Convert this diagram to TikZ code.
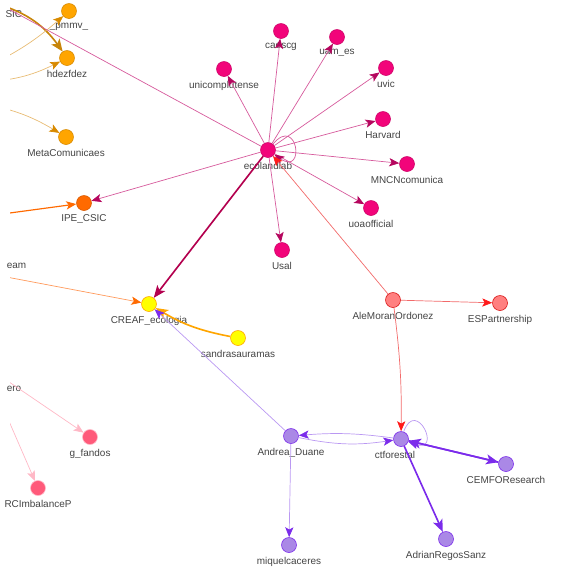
\documentclass[tikz,border=0pt]{standalone}
\usepackage{fontspec}
\setmainfont{Liberation Sans}
\usetikzlibrary{arrows.meta}

\definecolor{hubpink}{HTML}{F2047A}
\definecolor{hubedge}{HTML}{D65A9C}
\definecolor{hubtip}{HTML}{B5065E}
\definecolor{hubdark}{HTML}{B3004E}
\definecolor{amber}{HTML}{FFA500}
\definecolor{amberdk}{HTML}{D88A00}
\definecolor{tanline}{HTML}{E8BC74}
\definecolor{goldline}{HTML}{C7850A}
\definecolor{ipeorange}{HTML}{FF6A00}
\definecolor{peach}{HTML}{FF9A5C}
\definecolor{lemon}{HTML}{FFFF00}
\definecolor{salmon}{HTML}{FF8080}
\definecolor{redline}{HTML}{F26A6A}
\definecolor{redtip}{HTML}{FF1A1A}
\definecolor{lilac}{HTML}{AA88E6}
\definecolor{violet}{HTML}{7B2BEB}
\definecolor{lightviolet}{HTML}{BA98F2}
\definecolor{rose}{HTML}{FF5A7A}
\definecolor{blush}{HTML}{FFB8C6}
\definecolor{labgray}{HTML}{444444}

\begin{document}
\begin{tikzpicture}[x=0.03cm, y=-0.03cm,
  dot/.style 2 args={circle, fill=#1, draw=#2, line width=0.5pt, minimum size=0.45cm, inner sep=0pt},
  lbl/.style={font=\fontsize{8.5}{10}\selectfont, text=labgray},
  link/.style 2 args={draw=#1, line width=0.6pt, -{Stealth[length=8.5pt,width=7pt,inset=2pt,color=#2]}},
  heavy/.style 2 args={draw=#1, line width=1.4pt, -{Stealth[length=10.5pt,width=8.5pt,inset=2.5pt,color=#2]}}]
  \useasboundingbox (0,0) rectangle (579,578);
  % Off-screen ends
  \coordinate (offnw) at (-30,-12);
  \coordinate (offsic) at (-10,2);
  \coordinate (offa) at (-20,70);
  \coordinate (offb) at (-20,82);
  \coordinate (offc) at (-20,103);
  \coordinate (offd) at (-20,217);
  \coordinate (offe) at (-20,272);
  \coordinate (offf) at (-10,369);
  \coordinate (offg) at (-5,389);
  \node[lbl, anchor=east] (sic) at (26.3,14) {SIC};
  \node[lbl, anchor=east] (eam) at (30.3,266) {eam};
  \node[lbl, anchor=east] (ero) at (25.3,389) {ero};
  % Orange group
  \node[dot={amber}{amberdk}, label={[lbl]below:\_pmmv\_}] (pmmv) at (69,11) {};
  \node[dot={amber}{amberdk}, label={[lbl]below:hdezfdez}] (hdezfdez) at (67,58) {};
  \node[dot={amber}{amberdk}, label={[lbl]below:MetaComunicaes}] (meta) at (66,137) {};
  \node[dot={ipeorange}{ipeorange!85!black}, label={[lbl]below:IPE\_CSIC}] (ipe) at (84,203) {};
  \node[dot={lemon}{amber}, label={[lbl]below:CREAF\_ecologia}] (creaf) at (149,304) {};
  \node[dot={lemon}{amber}, label={[lbl]below:sandrasauramas}] (sandra) at (238,338) {};
  % Hub and its targets
  \node[dot={hubpink}{hubpink!85!black}, label={[lbl]below:ecolandlab}] (eco) at (268,150) {};
  \node[dot={hubpink}{hubpink!85!black}, label={[lbl]below:caescg}] (caescg) at (281,31) {};
  \node[dot={hubpink}{hubpink!85!black}, label={[lbl]below:uam\_es}] (uam) at (337,37) {};
  \node[dot={hubpink}{hubpink!85!black}, label={[lbl]below:unicomplutense}] (ucm) at (224,69) {};
  \node[dot={hubpink}{hubpink!85!black}, label={[lbl]below:uvic}] (uvic) at (386,68) {};
  \node[dot={hubpink}{hubpink!85!black}, label={[lbl]below:Harvard}] (harvard) at (383,119) {};
  \node[dot={hubpink}{hubpink!85!black}, label={[lbl]below:MNCNcomunica}] (mncn) at (407,164) {};
  \node[dot={hubpink}{hubpink!85!black}, label={[lbl]below:uoaofficial}] (uoa) at (371,208) {};
  \node[dot={hubpink}{hubpink!85!black}, label={[lbl]below:Usal}] (usal) at (282,250) {};
  % Red group
  \node[dot={salmon}{redtip!85!black}, label={[lbl]below:AleMoranOrdonez}] (ale) at (393,300) {};
  \node[dot={salmon}{redtip!85!black}, label={[lbl]below:ESPartnership}] (esp) at (500,303) {};
  % Purple group
  \node[dot={lilac}{violet}, label={[lbl,xshift=-0.18cm]below:ctforestal}] (ctf) at (401,439) {};
  \node[dot={lilac}{violet}, label={[lbl]below:Andrea\_Duane}] (andrea) at (291,436) {};
  \node[dot={lilac}{violet}, label={[lbl]below:CEMFOResearch}] (cemfo) at (506,464) {};
  \node[dot={lilac}{violet}, label={[lbl]below:AdrianRegosSanz}] (adrian) at (446,539) {};
  \node[dot={lilac}{violet}, label={[lbl]below:miquelcaceres}] (miquel) at (289,545) {};
  % Pink pair
  \node[dot={rose}{blush}, label={[lbl]below:g\_fandos}] (fandos) at (90,437) {};
  \node[dot={rose}{blush}, label={[lbl]below:RCImbalanceP}] (rci) at (38,488) {};

  \begin{scope}
  \clip (10,0) rectangle (579,578);
  % Edges from the left
  \draw[heavy={goldline}{goldline}] (offsic) to[bend left=20] (hdezfdez);
  \draw[link={tanline}{amberdk}] (offa) to[bend right=8] (pmmv);
  \draw[link={tanline}{amberdk}] (offb) to[bend right=12] (hdezfdez);
  \draw[link={tanline}{amberdk}] (offc) to[bend left=10] (meta);
  \draw[link={ipeorange}{ipeorange}, line width=1pt] (offd) -- (ipe);
  \draw[link={peach}{ipeorange}] (offe) -- (creaf);
  \draw[link={blush}{blush}] (offf) -- (fandos);
  \draw[link={blush}{blush}] (offg) -- (rci);
  % Hub edges
  \draw[link={hubedge}{hubtip}] (eco) -- (offnw);
  \foreach \t in {caescg,uam,ucm,uvic,harvard,mncn,uoa,usal,ipe}
    \draw[link={hubedge}{hubtip}] (eco) -- (\t);
  \draw[link={hubedge}{hubtip}] (eco) to[out=50,in=-35,min distance=1.15cm] (eco);
  \draw[heavy={hubdark}{hubdark}] (eco) -- (creaf);
  \draw[heavy={amber}{amber}] (sandra) to[bend left=10] (creaf);
  % Red edges
  \draw[link={redline}{redtip}] (ale) -- (eco);
  \draw[link={redline}{redtip}] (ale) -- (esp);
  \draw[link={redline}{redtip}] (ale) to[bend left=4] (ctf);
  % Purple edges
  \draw[link={lightviolet}{violet}] (ctf) to[out=70,in=-20,min distance=1.1cm] (ctf);
  \draw[link={lightviolet}{violet}] (ctf) to[bend right=6] (andrea);
  \draw[link={lightviolet}{violet}] (andrea) to[bend right=10] (ctf);
  \draw[link={lightviolet}{violet}] (andrea) -- (miquel);
  \draw[link={lightviolet}{violet}] (andrea) -- (creaf);
  \draw[heavy={violet}{violet}] (ctf) -- (cemfo);
  \draw[heavy={violet}{violet}] (cemfo) -- (ctf);
  \draw[heavy={violet}{violet}] (ctf) -- (adrian);
  \end{scope}
\end{tikzpicture}
\end{document}
